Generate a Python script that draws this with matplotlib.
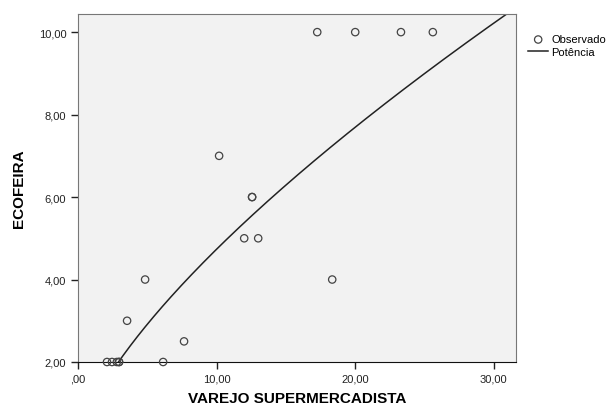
import matplotlib.pyplot as plt
import numpy as np
from matplotlib.ticker import FuncFormatter

plt.rcParams["font.family"] = ["Liberation Sans", "DejaVu Sans"]

# Dados observados
varejo = [2.09, 2.45, 2.80, 2.96, 2.96, 6.14, 3.54, 4.84, 7.65, 10.18,
          11.99, 13.00, 12.56, 12.56, 17.26, 18.34, 20.00, 23.30, 25.60]
ecofeira = [2, 2, 2, 2, 2, 2, 3, 4, 2.5, 7,
            5, 5, 6, 6, 10, 4, 10, 10, 10]

# Modelo potência y = a * x^b
coef_a = 0.945
coef_b = 0.70

x_ticks = [0, 10, 20, 30]
y_ticks = [2, 4, 6, 8, 10]


def fmt(v, pos):
    s = f"{v:.2f}".replace(".", ",")
    if s.startswith("0"):
        s = s[1:]
    return s


def main():
    fig = plt.figure(figsize=(6.11, 4.14), dpi=100)
    ax = fig.add_axes([0.1277, 0.1232, 0.7168, 0.8406])
    ax.set_facecolor("#f2f2f2")

    xs = np.linspace(0.5, 32, 300)
    ax.plot(xs, coef_a * xs ** coef_b, color="#222222", lw=1.1, label="Potência", zorder=2)
    ax.scatter(varejo, ecofeira, s=28, facecolors="none", edgecolors="#444444",
               linewidths=0.9, label="Observado", zorder=3, clip_on=False)

    ax.set_xlim(0, 31.6)
    ax.set_ylim(2, 10.44)
    ax.set_xticks(x_ticks)
    ax.set_yticks(y_ticks)
    ax.xaxis.set_major_formatter(FuncFormatter(fmt))
    ax.yaxis.set_major_formatter(FuncFormatter(fmt))
    ax.tick_params(direction="out", length=5, width=1, labelsize=8, colors="#222222")

    for s in ["top", "right", "left"]:
        ax.spines[s].set_color("#777777")
    ax.spines["bottom"].set_color("#111111")

    ax.set_xlabel("VAREJO SUPERMERCADISTA", fontsize=11, fontweight="bold", labelpad=5)
    ax.set_ylabel("ECOFEIRA", fontsize=11, fontweight="bold", labelpad=9)

    h, l = ax.get_legend_handles_labels()
    ax.legend(h[::-1], l[::-1], loc="upper left", bbox_to_anchor=(1.005, 0.97), frameon=False,
              fontsize=8, handlelength=1.8, handletextpad=0.3, labelspacing=0.2)

    plt.savefig("out.png")


if __name__ == "__main__":
    main()
